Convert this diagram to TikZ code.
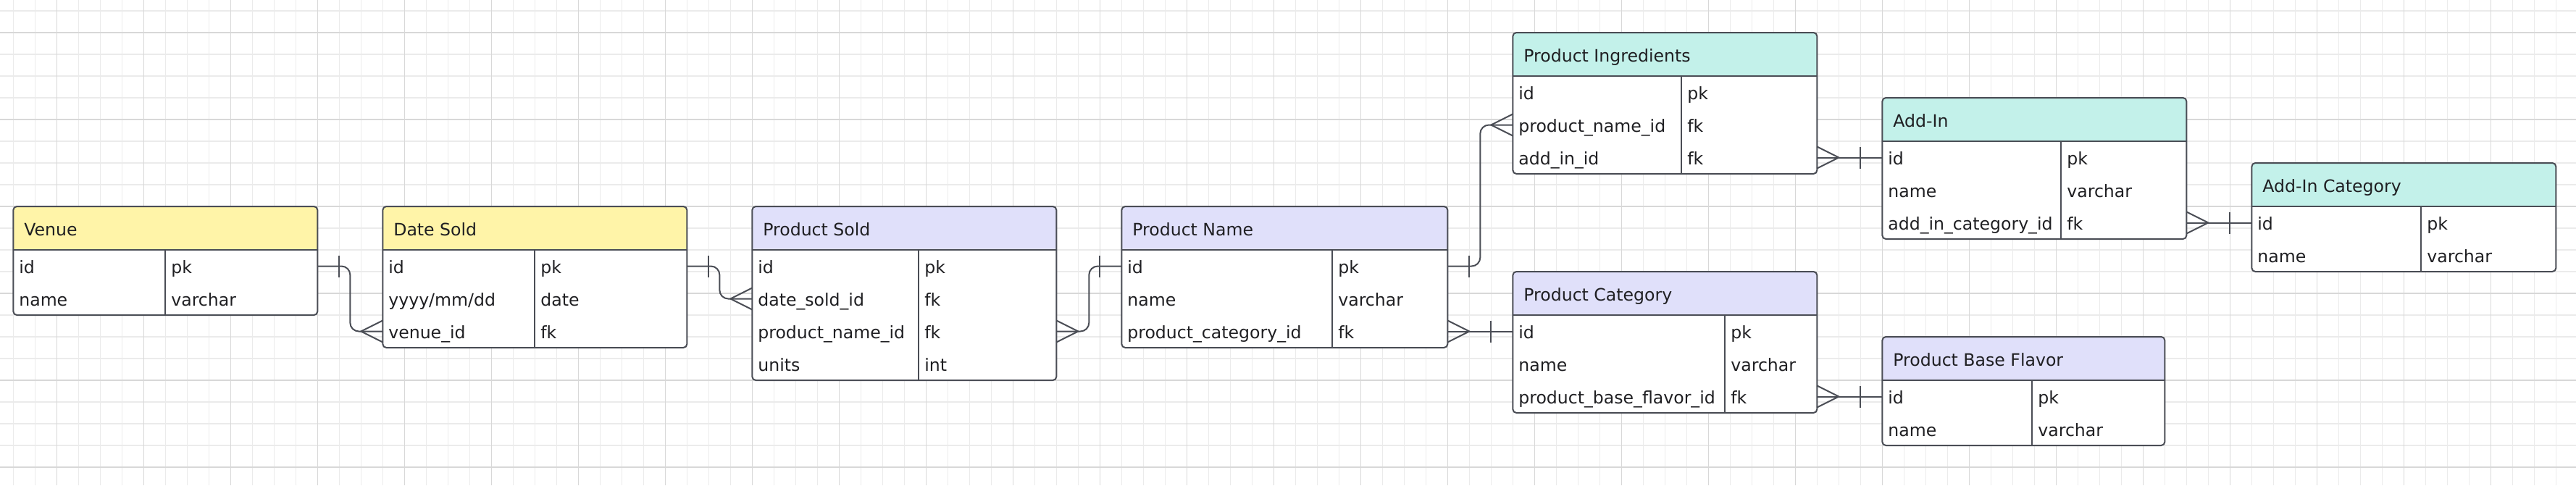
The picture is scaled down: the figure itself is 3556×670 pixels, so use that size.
\documentclass[tikz,border=0pt]{standalone}
\usepackage{fontspec}
\newfontfamily\uifont{DejaVu Sans}
\definecolor{bordercol}{HTML}{4A4D55}
\definecolor{txtcol}{HTML}{1F1F22}
\definecolor{hyellow}{HTML}{FFF4A8}
\definecolor{hlav}{HTML}{E0E0FA}
\definecolor{hteal}{HTML}{C3F1EA}
\definecolor{gridminor}{HTML}{EBEBEB}
\definecolor{gridmajor}{HTML}{D8D8D8}
\tikzset{
  tbl/.style={rectangle, draw=bordercol, line width=2pt, fill=white, rounded corners=5pt, inner sep=0pt, outer sep=0pt},
  tline/.style={draw=bordercol, line width=2pt, sharp corners},
  cell/.style={rectangle, inner xsep=8pt, inner ysep=0pt, outer sep=0pt, minimum height=45pt, text height=20pt, text depth=0pt, align=left, font=\uifont\fontsize{23.6}{28}\selectfont, text=txtcol},
  ttl/.style={inner sep=0pt, outer sep=0pt, text height=20pt, text depth=0pt, font=\uifont\fontsize{23.6}{28}\selectfont, text=txtcol},
  conn/.style={draw=bordercol, line width=2pt, rounded corners=12pt},
  footln/.style={draw=bordercol, line width=2pt, sharp corners},
  gminor/.style={draw=gridminor, line width=1.4pt},
  gmajor/.style={draw=gridmajor, line width=1.6pt},
}
% #1 name, #2 x, #3 y, #4 width, #5 key col width, #6 rows, #7 colour, #8 title, #9 rows
\newcommand{\ertable}[9]{%
  \node[tbl, minimum width=#4pt, minimum height={(60+45*#6)*1pt}, anchor=north west,
    path picture={
      \fill[#7, sharp corners] (path picture bounding box.north west) rectangle ([yshift=-60pt]path picture bounding box.north east);
      \draw[tline] ([yshift=-60pt]path picture bounding box.north west) -- ([yshift=-60pt]path picture bounding box.north east);
      \draw[tline] ([xshift=#5pt,yshift=-60pt]path picture bounding box.north west) -- ([xshift=#5pt]path picture bounding box.south west);
    }] (#1) at (#2,#3) {};
  \node[ttl, anchor=west] (#1-t) at ([xshift=15pt,yshift=-30pt]#1.north west) {#8};
  \pgfmathsetmacro\twk{#5-16}
  \pgfmathsetmacro\twv{#4-#5-16}
  \foreach \k/\v [count=\i] in {#9} {
    \node[cell, text width=\twk pt, anchor=north west] (#1-\i) at ([yshift={(-15-45*\i)*1pt}]#1.north west) {\k};
    \node[cell, text width=\twv pt, anchor=north west] (#1-v\i) at ([xshift=#5pt, yshift={(-15-45*\i)*1pt}]#1.north west) {\v};
  }
}
\newcommand{\oneE}[1]{\draw[footln] ([xshift=30pt,yshift=15pt]#1) -- ([xshift=30pt,yshift=-15pt]#1);}
\newcommand{\oneW}[1]{\draw[footln] ([xshift=-30pt,yshift=15pt]#1) -- ([xshift=-30pt,yshift=-15pt]#1);}
\newcommand{\manyE}[1]{\draw[footln] ([yshift=15pt]#1) -- ([xshift=30pt]#1) -- ([yshift=-15pt]#1);}
\newcommand{\manyW}[1]{\draw[footln] ([yshift=15pt]#1) -- ([xshift=-30pt]#1) -- ([yshift=-15pt]#1);}
\begin{document}
\begin{tikzpicture}[x=1pt, y=-1pt]
\useasboundingbox (0,0) rectangle (3556,670);
\fill[white] (0,0) rectangle (3556,670);
% grid
\foreach \gx in {0,...,117} \draw[gminor] ({18.33+30*\gx},0) -- ({18.33+30*\gx},670);
\foreach \gy in {0,...,21} \draw[gminor] (0,{15+30*\gy}) -- (3556,{15+30*\gy});
\foreach \gx in {0,...,28} \draw[gmajor] ({78.33+120*\gx},0) -- ({78.33+120*\gx},670);
\foreach \gy in {0,...,5} \draw[gmajor] (0,{45+120*\gy}) -- (3556,{45+120*\gy});

% tables
\ertable{venue}{18.33}{285}{420}{210}{2}{hyellow}{Venue}{id/pk, name/varchar}
\ertable{datesold}{528.33}{285}{420}{210}{3}{hyellow}{Date Sold}{id/pk, {yyyy/mm/dd}/date, venue\_id/fk}
\ertable{psold}{1038.33}{285}{420}{230}{4}{hlav}{Product Sold}{id/pk, date\_sold\_id/fk, product\_name\_id/fk, units/int}
\ertable{pname}{1548.33}{285}{450}{291}{3}{hlav}{Product Name}{id/pk, name/varchar, product\_category\_id/fk}
\ertable{ingr}{2088.33}{45}{420}{233}{3}{hteal}{Product Ingredients}{id/pk, product\_name\_id/fk, add\_in\_id/fk}
\ertable{addin}{2598.33}{135}{420}{247}{3}{hteal}{Add-In}{id/pk, name/varchar, add\_in\_category\_id/fk}
\ertable{addincat}{3108.33}{225}{420}{234}{2}{hteal}{Add-In Category}{id/pk, name/varchar}
\ertable{pcat}{2088.33}{375}{420}{293}{3}{hlav}{Product Category}{id/pk, name/varchar, product\_base\_flavor\_id/fk}
\ertable{pbase}{2598.33}{465}{390}{207}{2}{hlav}{Product Base Flavor}{id/pk, name/varchar}

% connectors
\coordinate (c1a) at (venue.east |- venue-1);
\coordinate (c1b) at (datesold.west |- datesold-3);
\draw[conn] (c1a) -- ++(45,0) |- (c1b);
\oneE{c1a} \manyW{c1b}

\coordinate (c2a) at (datesold.east |- datesold-1);
\coordinate (c2b) at (psold.west |- psold-2);
\draw[conn] (c2a) -- ++(45,0) |- (c2b);
\oneE{c2a} \manyW{c2b}

\coordinate (c3a) at (psold.east |- psold-3);
\coordinate (c3b) at (pname.west |- pname-1);
\draw[conn] (c3a) -- ++(45,0) |- (c3b);
\manyE{c3a} \oneW{c3b}

\coordinate (c4a) at (pname.east |- pname-1);
\coordinate (c4b) at (ingr.west |- ingr-2);
\draw[conn] (c4a) -- ++(45,0) |- (c4b);
\oneE{c4a} \manyW{c4b}

\coordinate (c5a) at (pname.east |- pname-3);
\coordinate (c5b) at (pcat.west |- pcat-1);
\draw[conn] (c5a) -- (c5b);
\manyE{c5a} \oneW{c5b}

\coordinate (c6a) at (ingr.east |- ingr-3);
\coordinate (c6b) at (addin.west |- addin-1);
\draw[conn] (c6a) -- (c6b);
\manyE{c6a} \oneW{c6b}

\coordinate (c7a) at (addin.east |- addin-3);
\coordinate (c7b) at (addincat.west |- addincat-1);
\draw[conn] (c7a) -- (c7b);
\manyE{c7a} \oneW{c7b}

\coordinate (c8a) at (pcat.east |- pcat-3);
\coordinate (c8b) at (pbase.west |- pbase-1);
\draw[conn] (c8a) -- (c8b);
\manyE{c8a} \oneW{c8b}
\end{tikzpicture}
\end{document}
